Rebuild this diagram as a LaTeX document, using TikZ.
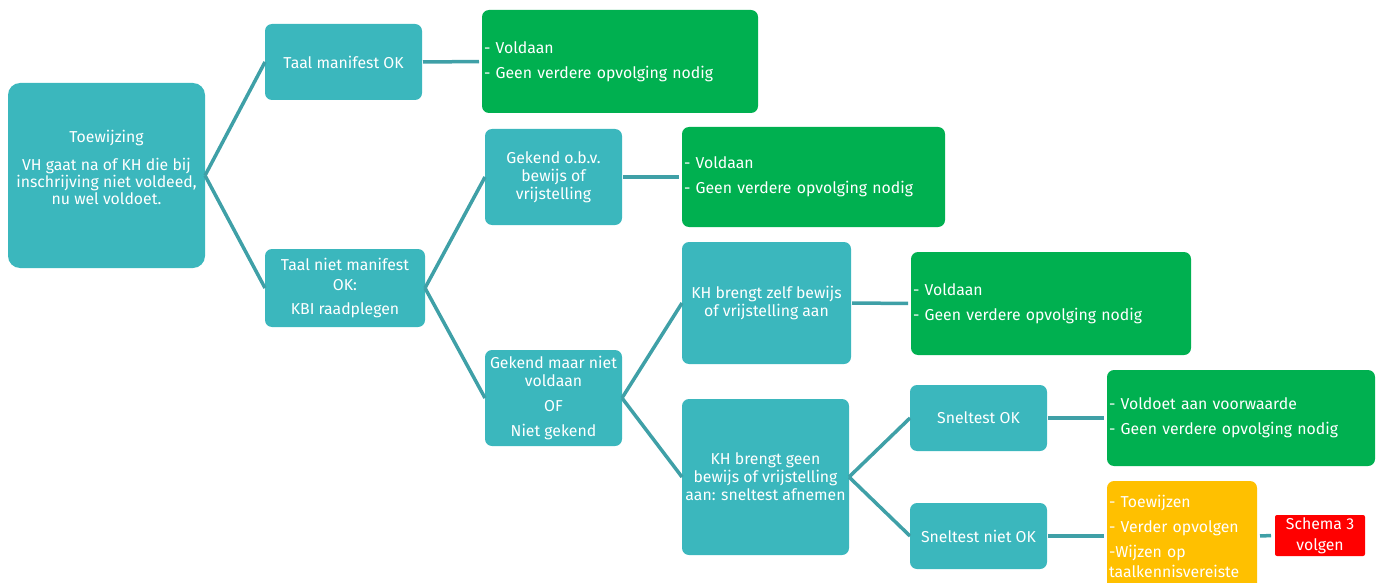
\documentclass[tikz,border=0pt]{standalone}
\usepackage{fontspec}
\setmainfont{Fira Sans}
\definecolor{tealbox}{HTML}{3BB7BD}
\definecolor{tealline}{HTML}{3FA0A7}
\definecolor{okgreen}{HTML}{00B050}
\definecolor{warnyellow}{HTML}{FFC000}
\definecolor{alertred}{HTML}{FF0000}
\begin{document}
\begin{tikzpicture}[x=1pt,y=-1pt,
  base/.style={rounded corners=7pt, anchor=north west, outer sep=0pt, inner sep=2pt,
    text=white, font=\fontsize{15.8}{18}\selectfont},
  tbox/.style={base, fill=tealbox, align=center},
  gbox/.style={base, fill=okgreen, align=left},
  ybox/.style={base, fill=warnyellow, align=left},
  rbox/.style={base, rounded corners=2pt, fill=alertred, align=center},
  conn/.style={draw=tealline, line width=3.5pt}]
\useasboundingbox (0,0) rectangle (1383,583);
\clip (0,0) rectangle (1383,583);

\node[tbox, rounded corners=12pt, minimum width=197pt, minimum height=185pt] (root) at (8,83)
  {\fontsize{15.8}{16}\selectfont\begin{tabular}{@{}c@{}}Toewijzing\\[11pt]
   VH gaat na of KH die bij\\ inschrijving niet voldeed,\\ nu wel voldoet.\\[12pt]\end{tabular}};

\node[tbox, minimum width=157pt, minimum height=76pt] (tmo) at (265,24) {Taal manifest OK};
\node[gbox, minimum width=276pt, minimum height=103pt, text width=272pt] (g1) at (482,10)
  {- Voldaan\\[7pt]- Geen verdere opvolging nodig};

\node[tbox, minimum width=160pt, minimum height=78pt] (tnm) at (265,249)
  {Taal niet manifest\\[2pt]OK:\\[6pt]KBI raadplegen};

\node[tbox, minimum width=137pt, minimum height=96pt] (gob) at (485,129)
  {Gekend o.b.v.\\bewijs of\\vrijstelling};
\node[gbox, minimum width=263pt, minimum height=100pt, text width=259pt] (g2) at (682,127)
  {- Voldaan\\[7pt]- Geen verdere opvolging nodig};

\node[tbox, minimum width=137pt, minimum height=96pt] (gmn) at (485,350)
  {Gekend maar niet\\voldaan\\[7pt]OF\\[7pt]Niet gekend};

\node[tbox, minimum width=169pt, minimum height=122pt] (kz) at (682,242)
  {KH brengt zelf bewijs\\of vrijstelling aan};
\node[gbox, minimum width=280pt, minimum height=103pt, text width=276pt] (g3) at (911,252)
  {- Voldaan\\[7pt]- Geen verdere opvolging nodig};

\node[tbox, minimum width=167pt, minimum height=156pt] (kg) at (682,399)
  {KH brengt geen\\bewijs of vrijstelling\\aan: sneltest afnemen};

\node[tbox, minimum width=137pt, minimum height=66pt] (sok) at (910,385) {Sneltest OK};
\node[gbox, minimum width=268pt, minimum height=96pt, text width=264pt] (g4) at (1107,370)
  {- Voldoet aan voorwaarde\\[7pt]- Geen verdere opvolging nodig};

\node[tbox, minimum width=137pt, minimum height=66pt] (snok) at (910,503) {Sneltest niet OK};
\node[ybox, minimum width=150pt, minimum height=110pt, text width=146pt] (yel) at (1107,481)
  {- Toewijzen\\[7pt]- Verder opvolgen\\[7pt]-Wijzen op\\[2pt]taalkennisvereiste};
\node[rbox, minimum width=90pt, minimum height=41pt] (red) at (1275,515)
  {Schema 3\\[3pt]volgen};

\draw[conn] (root.east) -- (tmo.west);
\draw[conn] (root.east) -- (tnm.west);
\draw[conn, shorten <=1pt, shorten >=3pt] (tmo.east) -- (g1.west);
\draw[conn] (tnm.east) -- (gob.west);
\draw[conn] (tnm.east) -- (gmn.west);
\draw[conn, shorten <=1pt, shorten >=3pt] (gob.east) -- (g2.west);
\draw[conn] (gmn.east) -- (kz.west);
\draw[conn] (gmn.east) -- (kg.west);
\draw[conn, shorten <=1pt, shorten >=3pt] (kz.east) -- (g3.west);
\draw[conn] (kg.east) -- (sok.west);
\draw[conn] (kg.east) -- (snok.west);
\draw[conn, shorten <=1pt, shorten >=3pt] (sok.east) -- (g4.west);
\draw[conn, shorten <=1pt, shorten >=3pt] (snok.east) -- (yel.west);
\draw[conn, shorten <=3pt, shorten >=4pt] (yel.east) -- (red.west);
\end{tikzpicture}
\end{document}
